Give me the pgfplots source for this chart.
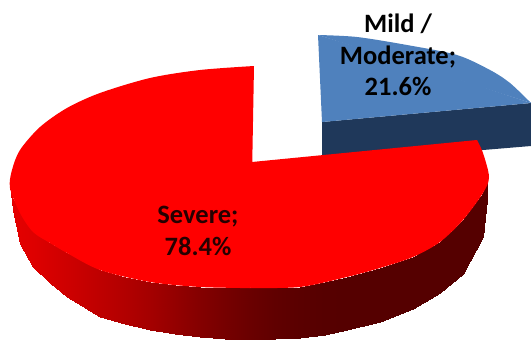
\documentclass[border=0pt]{standalone}
\usepackage{pgfplots}
\pgfplotsset{compat=1.18}
\usepackage{fontspec}
\setmainfont{Carlito}
\definecolor{blueTop}{RGB}{79,129,189}
\definecolor{blueSide}{RGB}{31,56,90}
\definecolor{redTop}{RGB}{255,0,0}
\begin{document}
\begin{tikzpicture}
\useasboundingbox (0,0) rectangle (531pt,340pt);
\begin{axis}[
  scale only axis, width=531pt, height=340pt,
  xmin=0, xmax=531, ymin=0, ymax=340, y dir=reverse,
  hide axis, clip=true,
  colormap={redside}{rgb255(0cm)=(0,0,0); rgb255(1cm)=(255,0,0)},
  point meta min=0, point meta max=255,
]
% Blue slice: side wall, then top face (rim segment plus inner triangle)
\addplot[fill=blueSide, draw=none] coordinates {
  (322,122) (531,103) (531,146) (483,150) (322,156)
} -- cycle;
\addplot[fill=blueTop, draw=none, smooth, tension=0.5] coordinates {
  (318,35) (357,37) (407,45) (457,55) (490,70) (510,83) (531,103)
} -- cycle;
\addplot[fill=blueTop, draw=none] coordinates {
  (318,35) (400,60) (531,103) (322,122)
} -- cycle;

% Red slice: shaded side wall
\addplot[surf, shader=interp, mesh/rows=2, point meta=explicit] table[meta=c] {
x y c
10 186 228
12 198 228
20 213 226
33 232 222
50 243 214
67 253 206
100 270 190
125 277 178
150 282 164
175 285 148
200 287 132
225 288 118
250 288 106
275 288 96
300 287 90
325 282 86
347 277 85
380 268 85
413 257 85
440 242 85
463 220 85
483 193 85
488 180 85

10 186 228
13 210 228
20 244 226
33 267 222
50 283 214
67 297 206
100 317 190
125 324 178
150 330 164
175 334 148
200 337 132
225 338.5 118
250 339 106
275 339 96
300 338 90
325 335 86
347 330 85
380 322 85
413 309 85
440 293 85
463 274 85
483 237 85
488 190 85
};

% Red slice: top face, left rim, right rim and the part around the apex
\addplot[fill=redTop, draw=none, smooth, tension=0.5] coordinates {
  (254,66) (200,70) (150,78) (100,93) (67,108) (40,127) (20,150) (12,170) (10,188)
  (20,213) (33,232) (50,243) (67,253) (100,270) (150,282) (200,287) (250,288)
} -- cycle;
\addplot[fill=redTop, draw=none, smooth, tension=0.5] coordinates {
  (250,288) (300,287) (347,277) (380,268) (413,257) (440,242) (463,220) (483,193)
  (489,177) (483,153) (477,140)
} -- cycle;
\addplot[fill=redTop, draw=none] coordinates {
  (252,162) (477,140) (470,200) (250,288) (240,288) (240,170)
} -- cycle;

\node[font=\fontsize{26.5}{31.5}\selectfont\bfseries, align=center, text=black]
  at (axis cs:398,55) {Mild /\\Moderate;\\21.6\%};
\node[font=\fontsize{26.5}{32}\selectfont\bfseries, align=center, text=black!85!red]
  at (axis cs:198,231) {Severe;\\78.4\%};
\end{axis}
\end{tikzpicture}
\end{document}
